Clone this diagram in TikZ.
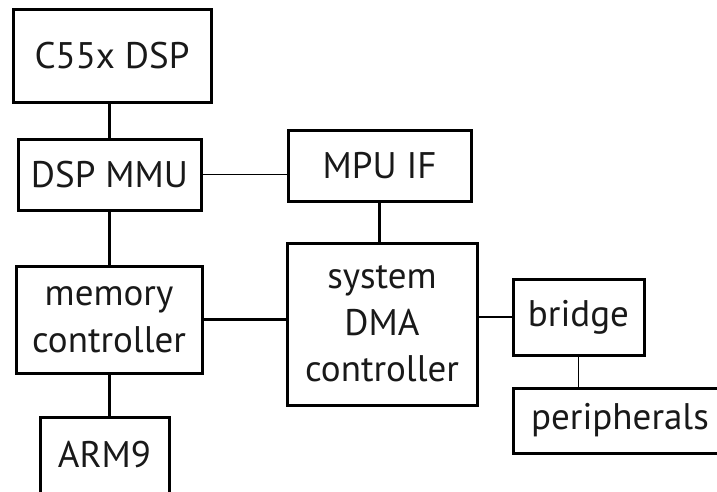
\documentclass[tikz,border=0pt]{standalone}
\usepackage{fontspec}
\setmainfont{PT Sans}
\usepackage{tikz}

\tikzset{
  blk/.style={draw=black, line width=3pt, rectangle, align=center,
    inner sep=0pt, font=\fontsize{37}{46.5}\selectfont, text=black!90},
  wire/.style={black, line width=3pt},
  thinwire/.style={black, line width=1.6pt}
}

\begin{document}
\begin{tikzpicture}[x=1pt, y=-1pt]
    \useasboundingbox (0,0) rectangle (717,491);
    \clip (0,0) rectangle (717,491);
    \node[blk, minimum width=198pt, minimum height=93pt] (dsp) at (112,55.5) {C55x DSP};
    \node[blk, minimum width=183pt, minimum height=71pt] (mmu) at (109.5,174.5) {DSP MMU};
    \node[blk, minimum width=183pt, minimum height=71pt] (mpu) at (379.5,165.5) {MPU IF};
    \node[blk, minimum width=186pt, minimum height=107pt] (mem) at (109,319.5) {memory\\controller};
    \node[blk, minimum width=190pt, minimum height=162pt] (dma) at (382,324) {system\\DMA\\controller};
    \node[blk, minimum width=131pt, minimum height=76pt] (bridge) at (578.5,317) {bridge};
    \node[blk, minimum width=214pt, minimum height=65pt] (periph) at (620,420.5) {peripherals};
    \node[blk, minimum width=129pt, minimum height=76pt] (arm) at (104.5,455) {ARM9};
    \draw[wire] (mmu.north) -- (mmu.north |- dsp.south);
    \draw[wire] (mem.north -| mmu.south) -- (mmu.south);
    \draw[wire] (mpu.south) -- (mpu.south |- dma.north);
    \draw[wire] (mem.east) -- (mem.east -| dma.west);
    \draw[wire] (mem.south) -- (mem.south |- arm.north);
    \draw[thinwire] (mmu.east) -- (mmu.east -| mpu.west);
    \draw[thinwire] (bridge.west) -- (bridge.west -| dma.east);
    \draw[thinwire] (bridge.south) -- (bridge.south |- periph.north);
\end{tikzpicture}
\end{document}
